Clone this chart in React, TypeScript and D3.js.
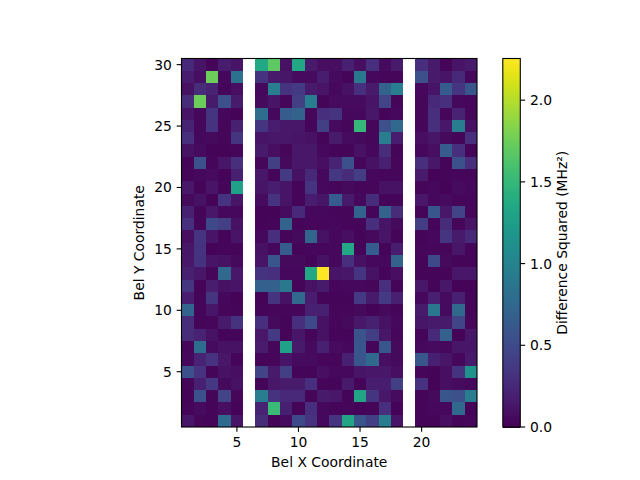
import * as d3 from "d3";

// Bel X runs 1..24, Bel Y runs 1..30. Columns 6 and 19 have no data.
const _ = null;
const row30 = [0.25, 0.12, 0.03, 0.18, 0.12, _, 1.35, 1.7, 0.1, 1.35, 0.15, 0.08, 0.08, 0.2, 0.08, 0.3, 0.07, 0.15, _, 0.3, 0.15, 0.03, 0.12, 0.15];
const row29 = [0.18, 0.08, 1.75, 0.05, 0.85, _, 0.33, 0.15, 0.13, 0.07, 0.07, 0.18, 0.07, 0.03, 0.9, 0.05, 0.04, 0.04, _, 0.55, 0.15, 0.12, 0.25, 0.05];
const row28 = [0.1, 0.28, 0.22, 0.03, 0.08, _, 0.05, 0.95, 0.33, 0.38, 0.15, 0.12, 0.05, 0.1, 0.3, 0.15, 0.7, 0.95, _, 0.05, 0.12, 0.65, 0.35, 0.6];
const row27 = [0.28, 1.75, 0.15, 0.55, 0.15, _, 0.06, 0.12, 0.04, 0.42, 0.95, 0.03, 0.07, 0.07, 0.07, 0.12, 0.45, 0.03, _, 0.04, 0.25, 0.3, 0.05, 0.04];
const row26 = [0.12, 0.05, 0.35, 0.05, 0.02, _, 0.8, 0.05, 0.65, 0.7, 0.04, 0.3, 0.33, 0.05, 0.05, 0.14, 0.03, 0.05, _, 0.04, 0.3, 0.04, 0.22, 0.04];
const row25 = [0.22, 0.05, 0.32, 0.04, 0.2, _, 0.35, 0.17, 0.14, 0.14, 0.03, 0.42, 0.07, 0.04, 1.5, 0.04, 0.55, 0.75, _, 0.04, 0.3, 0.14, 0.95, 0.1];
const row24 = [0.3, 0.05, 0.06, 0.04, 0.35, _, 0.12, 0.14, 0.14, 0.12, 0.1, 0.03, 0.15, 0.07, 0.06, 0.04, 0.95, 0.18, _, 0.08, 0.13, 0.06, 0.03, 0.3];
const row23 = [0.1, 0.07, 0.02, 0.02, 0.04, _, 0.15, 0.08, 0.04, 0.14, 0.14, 0.05, 0.03, 0.03, 0.1, 0.05, 0.28, 0.03, _, 0.05, 0.08, 0.65, 0.3, 0.03];
const row22 = [0.02, 0.55, 0.04, 0.13, 0.3, _, 0.04, 0.42, 0.06, 0.14, 0.14, 0.08, 0.22, 0.55, 0.04, 0.1, 0.2, 0.04, _, 0.3, 0.14, 0.03, 0.55, 0.3];
const row21 = [0.03, 0.05, 0.07, 0.02, 0.2, _, 0.14, 0.03, 0.38, 0.1, 0.25, 0.05, 0.36, 0.28, 0.4, 0.05, 0.04, 0.04, _, 0.15, 0.02, 0.03, 0.04, 0.03];
const row20 = [0.14, 0.03, 0.12, 0.03, 1.3, _, 0.12, 0.17, 0.12, 0.03, 0.33, 0.05, 0.04, 0.06, 0.04, 0.04, 0.1, 0.1, _, 0.04, 0.05, 0.02, 0.07, 0.05];
const row19 = [0.06, 0.1, 0.02, 0.33, 0.12, _, 0.07, 0.33, 0.12, 0.03, 0.17, 0.13, 0.65, 0.15, 0.05, 0.28, 0.03, 0.03, _, 0.14, 0.05, 0.07, 0.04, 0.04];
const row18 = [0.2, 0.03, 0.14, 0.05, 0.05, _, 0.02, 0.02, 0.07, 0.25, 0.05, 0.05, 0.04, 0.04, 0.7, 0.03, 0.7, 0.28, _, 0.03, 0.6, 0.14, 0.45, 0.04];
const row17 = [0.3, 0.03, 0.5, 0.42, 0.1, _, 0.02, 0.03, 0.7, 0.03, 0.04, 0.04, 0.05, 0.04, 0.03, 0.3, 0.12, 0.06, _, 0.4, 0.03, 0.28, 0.04, 0.12];
const row16 = [0.08, 0.35, 0.12, 0.03, 0.12, _, 0.05, 0.3, 0.03, 0.06, 0.72, 0.1, 0.05, 0.08, 0.03, 0.06, 0.12, 0.03, _, 0.03, 0.05, 0.35, 0.15, 0.25];
const row15 = [0.13, 0.33, 0.02, 0.03, 0.03, _, 0.1, 0.05, 0.65, 0.03, 0.05, 0.04, 0.05, 1.35, 0.03, 0.65, 0.03, 0.18, _, 0.04, 0.04, 0.04, 0.13, 0.03];
const row14 = [0.14, 0.33, 0.12, 0.1, 0.06, _, 0.12, 0.6, 0.06, 0.06, 0.03, 0.1, 0.05, 0.3, 0.09, 0.05, 0.05, 0.7, _, 0.03, 0.5, 0.06, 0.03, 0.03];
const row13 = [0.2, 0.14, 0.04, 0.75, 0.14, _, 0.33, 0.3, 0.05, 0.05, 1.35, 2.25, 0.12, 0.14, 0.35, 0.1, 0.03, 0.08, _, 0.03, 0.03, 0.03, 0.14, 0.14];
const row12 = [0.35, 0.02, 0.17, 0.1, 0.12, _, 0.68, 0.68, 0.9, 0.03, 0.1, 0.15, 0.04, 0.05, 0.05, 0.04, 0.3, 0.03, _, 0.14, 0.03, 0.14, 0.02, 0.02];
const row11 = [0.18, 0.03, 0.35, 0.05, 0.02, _, 0.02, 0.33, 0.1, 0.75, 0.17, 0.03, 0.03, 0.03, 0.38, 0.15, 0.38, 0.2, _, 0.05, 0.2, 0.07, 0.2, 0.03];
const row10 = [0.72, 0.03, 0.13, 0.04, 0.03, _, 0.03, 0.04, 0.04, 0.04, 0.2, 0.2, 0.04, 0.04, 0.06, 0.02, 0.06, 0.03, _, 0.15, 0.9, 0.07, 0.75, 0.03];
const row9 = [0.28, 0.03, 0.04, 0.15, 0.33, _, 0.3, 0.06, 0.03, 0.3, 0.5, 0.1, 0.04, 0.06, 0.14, 0.2, 0.1, 0.05, _, 0.13, 0.15, 0.15, 0.45, 0.04];
const row8 = [0.28, 0.22, 0.1, 0.03, 0.03, _, 0.14, 0.38, 0.03, 0.13, 0.03, 0.1, 0.03, 0.03, 0.58, 0.4, 0.14, 0.04, _, 0.03, 0.25, 0.68, 0.02, 0.14];
const row7 = [0.04, 0.8, 0.07, 0.1, 0.1, _, 0.16, 0.04, 1.3, 0.15, 0.06, 0.2, 0.07, 0.05, 0.6, 0.03, 0.6, 0.06, _, 0.05, 0.07, 0.05, 0.13, 0.13];
const row6 = [0.05, 0.22, 0.32, 0.14, 0.03, _, 0.03, 0.04, 0.12, 0.07, 0.07, 0.04, 0.04, 0.2, 0.6, 0.75, 0.08, 0.06, _, 0.6, 0.2, 0.13, 0.05, 0.15];
const row5 = [0.55, 0.32, 0.03, 0.1, 0.08, _, 0.45, 0.15, 0.42, 0.03, 0.03, 0.08, 0.05, 0.05, 0.12, 0.14, 0.14, 0.08, _, 0.04, 0.02, 0.08, 0.33, 1.15];
const row4 = [0.03, 0.2, 0.36, 0.06, 0.1, _, 0.03, 0.14, 0.16, 0.16, 0.3, 0.03, 0.03, 0.15, 0.02, 0.18, 0.18, 0.42, _, 0.32, 0.02, 0.08, 0.07, 0.05];
const row3 = [0.02, 0.55, 0.03, 0.45, 0.04, _, 0.95, 0.33, 0.25, 0.25, 0.03, 0.15, 0.14, 0.03, 1.33, 0.35, 0.14, 0.07, _, 0.03, 0.06, 0.6, 0.55, 0.95];
const row2 = [0.03, 0.07, 0.03, 0.08, 0.02, _, 0.22, 1.53, 0.2, 0.02, 0.3, 0.05, 0.03, 0.04, 0.02, 0.03, 0.3, 0.02, _, 0.03, 0.05, 0.05, 0.75, 0.02];
const row1 = [0.13, 0.04, 0.03, 0.78, 0.12, _, 0.28, 0.02, 0.07, 0.5, 0.32, 0.05, 0.34, 1.33, 0.6, 0.42, 0.95, 0.12, _, 0.03, 0.03, 0.08, 0.03, 0.04];

const rows = [
  row1, row2, row3, row4, row5, row6, row7, row8, row9, row10,
  row11, row12, row13, row14, row15, row16, row17, row18, row19, row20,
  row21, row22, row23, row24, row25, row26, row27, row28, row29, row30,
];

const xTicks = [5, 10, 15, 20];
const yTicks = [5, 10, 15, 20, 25, 30];
const cbarTicks = [0, 0.5, 1, 1.5, 2];
const vmax = 2.255;

const font = "'DejaVu Sans', sans-serif";
const fontSize = 13.89;
const tickLen = 4.86;
const ink = "#000";

const left = 181.5;
const right = 477;
const top = 58.5;
const bottom = 427;
const cbarLeft = 502.8;
const cbarRight = 520.3;

const x = d3.scaleLinear().domain([0.5, 24.5]).range([left, right]);
const y = d3.scaleLinear().domain([0.5, 30.5]).range([bottom, top]);
const cbarY = d3.scaleLinear().domain([0, vmax]).range([bottom, top]);
const color = d3.scaleSequential(d3.interpolateViridis).domain([0, vmax]);

// 256 steps like a matplotlib colormap
const cbarSteps = d3.range(256).map((i) => (i / 256) * vmax);
const cbarStep = vmax / 256;

export default function App() {
  return (
    <svg
      width={640}
      height={480}
      viewBox="0 0 640 480"
      style={{ position: "absolute", left: 0, top: 0, background: "#fff" }}
      fontFamily={font}
      fontSize={fontSize}
      fill={ink}
    >
      {/* Heatmap */}
      <g shapeRendering="crispEdges">
        {rows.map((row, r) =>
          row.map((v, c) =>
            v === null ? null : (
              <rect
                key={`${r}-${c}`}
                x={x(c + 0.5)}
                y={y(r + 1.5)}
                width={x(c + 1.5) - x(c + 0.5)}
                height={y(r + 0.5) - y(r + 1.5)}
                fill={color(v)}
              />
            ),
          ),
        )}
      </g>
      <rect x={left} y={top} width={right - left} height={bottom - top} fill="none" stroke={ink} strokeWidth={1.11} />

      {/* X axis */}
      {xTicks.map((t) => (
        <g key={t} transform={`translate(${x(t)},${bottom})`}>
          <line y2={tickLen} stroke={ink} strokeWidth={1.11} />
          <text y={20} textAnchor="middle">{t}</text>
        </g>
      ))}
      <text x={(left + right) / 2} y={467} textAnchor="middle">Bel X Coordinate</text>

      {/* Y axis */}
      {yTicks.map((t) => (
        <g key={t} transform={`translate(${left},${y(t)})`}>
          <line x2={-tickLen} stroke={ink} strokeWidth={1.11} />
          <text x={-9.7} y={5} textAnchor="end">{t}</text>
        </g>
      ))}
      <text transform={`translate(144,${(top + bottom) / 2}) rotate(-90)`} textAnchor="middle">Bel Y Coordinate</text>

      {/* Colorbar */}
      <g shapeRendering="crispEdges">
        {cbarSteps.map((v) => (
          <rect
            key={v}
            x={cbarLeft}
            y={cbarY(v + cbarStep)}
            width={cbarRight - cbarLeft}
            height={cbarY(v) - cbarY(v + cbarStep) + 0.5}
            fill={color(v + cbarStep / 2)}
          />
        ))}
      </g>
      <rect x={cbarLeft} y={top} width={cbarRight - cbarLeft} height={bottom - top} fill="none" stroke={ink} strokeWidth={1.11} />
      {cbarTicks.map((t) => (
        <g key={t} transform={`translate(${cbarRight},${cbarY(t)})`}>
          <line x2={tickLen} stroke={ink} strokeWidth={1.11} />
          <text x={9.7} y={5}>{t.toFixed(1)}</text>
        </g>
      ))}
      <text transform={`translate(567,${(top + bottom) / 2}) rotate(-90)`} textAnchor="middle">Difference Squared (MHz²)</text>
    </svg>
  );
}
